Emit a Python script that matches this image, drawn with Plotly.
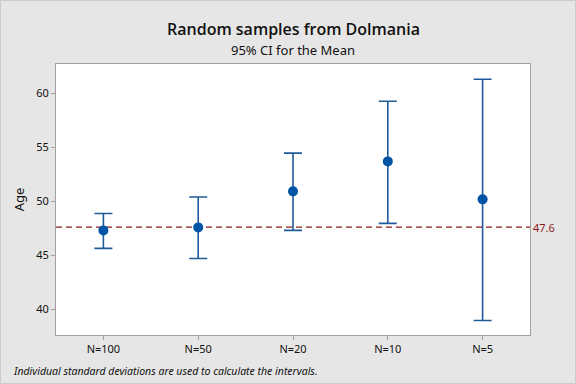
import plotly.graph_objects as go

categories = ["N=100", "N=50", "N=20", "N=10", "N=5"]
means = [47.29, 47.57, 50.91, 53.69, 50.17]
upper = [48.85, 50.38, 54.46, 59.26, 61.30]
lower = [45.62, 44.69, 47.29, 47.94, 38.94]
ref_value = 47.6
y_ticks = [40, 45, 50, 55, 60]

err_plus = [u - m for u, m in zip(upper, means)]
err_minus = [m - l for m, l in zip(means, lower)]

W, H = 576, 384
ML, MR, MT, MB = 56, 46, 64, 49
PW, PH = W - ML - MR, H - MT - MB

fig = go.Figure()
fig.add_trace(go.Scatter(
    x=list(range(len(categories))), y=means, mode="markers",
    marker=dict(size=10, color="#0054A6", symbol="circle"),
    error_y=dict(type="data", array=err_plus, arrayminus=err_minus,
                 color="#1F5B99", thickness=1.6, width=9, symmetric=False),
    showlegend=False,
))

fig.add_shape(type="line", xref="paper", yref="y", x0=0, x1=1, y0=ref_value, y1=ref_value,
              line=dict(color="#8E1B1B", width=1.2, dash="6px,4px"), layer="below")
fig.add_annotation(xref="paper", yref="y", x=1.003, y=ref_value, text=f"{ref_value}",
                   showarrow=False, xanchor="left", yanchor="middle",
                   font=dict(size=11, color="#8E1B1B", family="Noto Sans"))

# thin light frame around the whole figure
fig.add_shape(type="rect", xref="paper", yref="paper",
              x0=(-ML + 0.5) / PW, x1=1 + (MR - 0.5) / PW,
              y0=(-MB + 0.5) / PH, y1=1 + (MT - 0.5) / PH,
              line=dict(color="#CCCCCC", width=1), fillcolor="rgba(0,0,0,0)", layer="below")

fig.add_annotation(xref="paper", yref="paper", x=0.5, y=1, yshift=35,
                   text="Random samples from Dolmania", showarrow=False,
                   xanchor="center", yanchor="middle",
                   font=dict(size=16, color="#111111", family="Open Sans", weight=600))
fig.add_annotation(xref="paper", yref="paper", x=0.5, y=1, yshift=14,
                   text="95% CI for the Mean", showarrow=False,
                   xanchor="center", yanchor="middle",
                   font=dict(size=13, color="#111111", family="Noto Sans"))
fig.add_annotation(xref="paper", yref="paper", x=0, xshift=-45, y=0, yshift=-36,
                   text="<i>Individual standard deviations are used to calculate the intervals.</i>",
                   showarrow=False, xanchor="left", yanchor="middle",
                   font=dict(size=10.5, color="#111111", family="Noto Sans"))

fig.update_layout(
    width=W, height=H,
    margin=dict(l=ML, r=MR, t=MT, b=MB, autoexpand=False),
    paper_bgcolor="#E6E6E6", plot_bgcolor="#FFFFFF",
    font=dict(family="Noto Sans", size=11, color="#111111"),
)
fig.update_xaxes(
    range=[-0.5, 4.5], tickmode="array", tickvals=list(range(len(categories))),
    ticktext=categories, showgrid=False, zeroline=False, automargin=False,
    showline=True, linecolor="#A0A0A0", linewidth=1, mirror=True,
    ticks="outside", ticklen=4, tickcolor="#A0A0A0", tickfont=dict(size=11),
)
fig.update_yaxes(
    range=[37.59, 62.72], tickmode="array", tickvals=y_ticks,
    showgrid=False, zeroline=False, automargin=False,
    showline=True, linecolor="#A0A0A0", linewidth=1, mirror=True,
    ticks="outside", ticklen=4, tickcolor="#A0A0A0", tickfont=dict(size=11),
    title=dict(text="Age", font=dict(size=13), standoff=8),
)

fig.write_html("out.html", config={"displayModeBar": False},
               post_script=["document.body.style.margin='0px';"])
